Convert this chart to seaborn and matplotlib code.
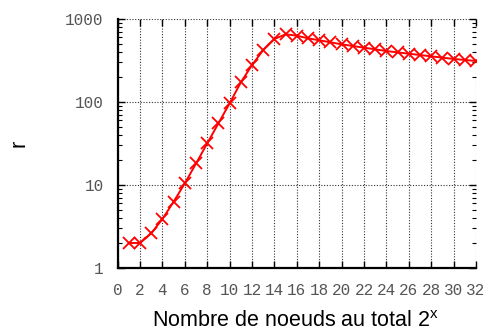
import matplotlib
matplotlib.use("Agg")
import matplotlib.pyplot as plt
import seaborn as sns
import pandas as pd
from matplotlib.ticker import FixedLocator, LogLocator, NullFormatter

# Total nodes exponent and measured ratio r
exponents = list(range(1, 33))
r_values = [2.0, 2.0, 2.62, 3.9, 6.3, 10.5, 18.2, 31.8, 55.4, 96.5,
            172.7, 279, 423, 574, 654, 629, 585, 554, 524, 495,
            473, 451, 431, 411, 396, 382, 368, 355, 342, 330,
            321, 312]
x_ticks = list(range(0, 33, 2))
y_ticks = [1, 10, 100, 1000]
y_tick_labels = ["1", "10", "100", "1000"]

df = pd.DataFrame({"x": exponents, "r": r_values})

sns.set_theme(style="white")
plt.rcParams["font.family"] = ["Liberation Sans", "DejaVu Sans"]

fig = plt.figure(figsize=(4.91, 3.32), dpi=100)
ax = fig.add_axes([0.2397, 0.1928, 0.9695 - 0.2397, 0.9428 - 0.1928])

sns.lineplot(data=df, x="x", y="r", ax=ax, color="#ff0000", linewidth=1.4,
             marker="x", markersize=8, markeredgewidth=1.3,
             markeredgecolor="#ff0000", zorder=3)

ax.set_yscale("log")
ax.set_xlim(0, 32)
ax.set_ylim(1, 1000)

ax.xaxis.set_major_locator(FixedLocator(x_ticks))
ax.yaxis.set_major_locator(FixedLocator(y_ticks))
ax.yaxis.set_minor_locator(LogLocator(base=10, subs=range(2, 10)))
ax.yaxis.set_minor_formatter(NullFormatter())
ax.set_xticklabels([str(t) for t in x_ticks])
ax.set_yticklabels(y_tick_labels)

for lbl in ax.get_xticklabels() + ax.get_yticklabels():
    lbl.set_fontfamily("Liberation Mono")
    lbl.set_fontsize(11.5)
    lbl.set_color("#555555")

ax.grid(True, which="major", linestyle=(0, (1, 1.5)), color="#333333", linewidth=0.8)

for side in ("top", "right"):
    ax.spines[side].set_visible(False)
for side in ("left", "bottom"):
    ax.spines[side].set_color("black")
    ax.spines[side].set_linewidth(1.6)

ax.tick_params(axis="both", which="major", direction="in", length=5, width=1,
               color="black", top=True, right=True, bottom=True, left=True)
ax.tick_params(axis="x", which="major", pad=11)
ax.tick_params(axis="y", which="major", pad=10)
ax.tick_params(axis="y", which="minor", direction="in", length=3, width=0.8,
               color="black", left=True, right=True)

ax.set_xlabel("Nombre de noeuds au total 2$^{\\mathregular{x}}$", fontsize=15.5,
              color="black")
ax.xaxis.set_label_coords(0.495, -0.172)
ax.set_ylabel("r", fontsize=15.5, color="black")
ax.yaxis.set_label_coords(-0.245, 0.5)

fig.savefig("out.png", dpi=100)
